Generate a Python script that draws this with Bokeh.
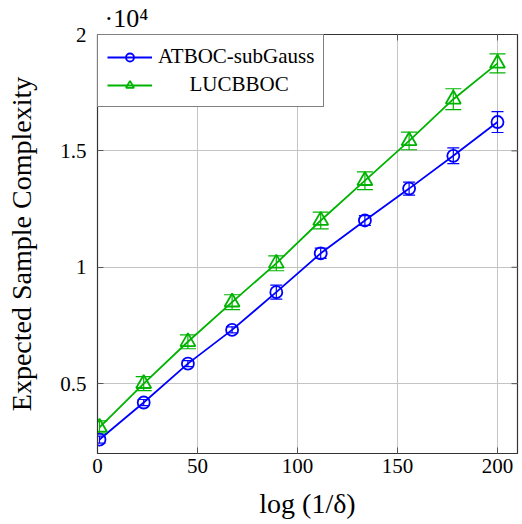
from bokeh.plotting import figure
from bokeh.models import (ColumnDataSource, Whisker, TeeHead, FixedTicker,
                          Title, Legend, LegendItem, Range1d)
from bokeh.embed import file_html
from bokeh.resources import INLINE

# ---------------- data ----------------
x_vals = [1, 23.1, 45.2, 67.3, 89.4, 111.6, 133.7, 155.8, 177.9, 200]
atboc = [2600, 4190, 5860, 7310, 8930, 10600, 12010, 13380, 14790, 16240]
atboc_err = [150, 130, 130, 130, 300, 220, 210, 280, 340, 450]
lucb = [3120, 5000, 6800, 8500, 10170, 12010, 13720, 15430, 17220, 18760]
lucb_err = [280, 300, 300, 320, 320, 360, 380, 380, 450, 410]
series_names = ["ATBOC-subGauss", "LUCBBOC"]
x_ticks = [0, 50, 100, 150, 200]
y_ticks = [5000, 10000, 15000, 20000]
y_tick_labels = ["0.5", "1", "1.5", "2"]
x_label = "log (1/δ)"
y_label = "Expected Sample Complexity"
scale_text = "·10⁴"

X_MIN, X_MAX = 0, 210
Y_MIN, Y_MAX = 2000, 20000

FONT = "Liberation Serif"
BLUE = "#0000ff"
GREEN = "#00b300"
FRAME_W = FRAME_H = 420
TICK_PX = 6

p = figure(width=522, height=524, output_backend="svg", toolbar_location=None,
           x_range=Range1d(X_MIN, X_MAX), y_range=Range1d(Y_MIN, Y_MAX),
           min_border_left=97, min_border_right=5, min_border_top=33, min_border_bottom=71,
           title=Title(text=scale_text, align="left", offset=7, standoff=3,
                       text_font=FONT, text_font_size="26px", text_font_style="normal",
                       text_color="black"))
p.background_fill_color = "white"
p.border_fill_color = "white"
p.outline_line_color = "#333333"
p.outline_line_width = 1.2

p.xgrid.ticker = FixedTicker(ticks=x_ticks)
p.ygrid.ticker = FixedTicker(ticks=y_ticks)
p.grid.grid_line_color = "#c4c4c4"
p.grid.grid_line_width = 1

xa = p.xaxis[0]
ya = p.yaxis[0]
xa.ticker = FixedTicker(ticks=x_ticks)
ya.ticker = FixedTicker(ticks=y_ticks)
ya.major_label_overrides = {t: l for t, l in zip(y_ticks, y_tick_labels)}
for ax in (xa, ya):
    ax.major_tick_in = TICK_PX
    ax.major_tick_out = 0
    ax.minor_tick_line_color = None
    ax.major_tick_line_color = "#555555"
    ax.axis_line_color = "#333333"
    ax.major_label_text_font = FONT
    ax.major_label_text_font_size = "21px"
    ax.major_label_text_color = "black"
    ax.axis_label_text_font = FONT
    ax.axis_label_text_font_style = "normal"
    ax.axis_label_text_color = "black"
xa.axis_label = x_label
ya.axis_label = y_label
xa.axis_label_text_font_size = "28px"
ya.axis_label_text_font_size = "28px"
xa.major_label_standoff = 5
ya.major_label_standoff = 11
xa.axis_label_standoff = 12
ya.axis_label_standoff = 20

# inward ticks on the top and right frame edges (mirroring the main axes)
dx = TICK_PX * (X_MAX - X_MIN) / FRAME_W
dy = TICK_PX * (Y_MAX - Y_MIN) / FRAME_H
p.segment(x0=x_ticks, x1=x_ticks, y0=[Y_MAX] * len(x_ticks), y1=[Y_MAX - dy] * len(x_ticks),
          line_color="#555555", line_width=1)
p.segment(x0=[X_MAX] * len(y_ticks), x1=[X_MAX - dx] * len(y_ticks), y0=y_ticks, y1=y_ticks,
          line_color="#555555", line_width=1)

src_a = ColumnDataSource(dict(x=x_vals, y=atboc, lo=[v - e for v, e in zip(atboc, atboc_err)],
                              hi=[v + e for v, e in zip(atboc, atboc_err)]))
src_l = ColumnDataSource(dict(x=x_vals, y=lucb, lo=[v - e for v, e in zip(lucb, lucb_err)],
                              hi=[v + e for v, e in zip(lucb, lucb_err)]))

la = p.line("x", "y", source=src_a, line_color=BLUE, line_width=1.8)
sa = p.scatter("x", "y", source=src_a, marker="circle", size=12, fill_color=None,
               line_color=BLUE, line_width=1.8)
ll = p.line("x", "y", source=src_l, line_color=GREEN, line_width=1.8)
sl = p.scatter("x", "y", source=src_l, marker="triangle", size=15, fill_color=None,
               line_color=GREEN, line_width=1.8)

p.add_layout(Whisker(source=src_a, base="x", upper="hi", lower="lo", line_color=BLUE, line_width=1.2,
                     upper_head=TeeHead(size=12, line_color=BLUE, line_width=1.2),
                     lower_head=TeeHead(size=12, line_color=BLUE, line_width=1.2)))
p.add_layout(Whisker(source=src_l, base="x", upper="hi", lower="lo", line_color=GREEN, line_width=1.2,
                     upper_head=TeeHead(size=16, line_color=GREEN, line_width=1.2),
                     lower_head=TeeHead(size=16, line_color=GREEN, line_width=1.2)))

legend = Legend(items=[LegendItem(label=series_names[0], renderers=[la, sa]),
                       LegendItem(label="\u00a0" * 6 + series_names[1], renderers=[ll, sl])],
                location="top_left", margin=0, padding=9, spacing=3,
                glyph_width=45, glyph_height=20, label_standoff=6, label_height=20,
                border_line_color="black", border_line_width=1,
                label_text_font=FONT, label_text_font_size="21px", label_text_color="black",
                label_text_line_height=1.0, background_fill_alpha=1)
p.add_layout(legend)

open("out.html", "w").write(file_html(p, INLINE))
